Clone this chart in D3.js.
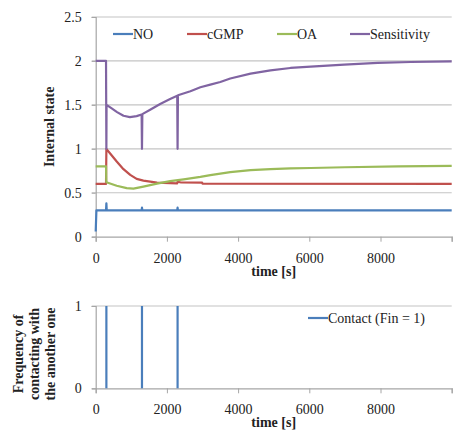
<!DOCTYPE html>
<html>
<head>
<meta charset="utf-8">
<script src="https://cdn.jsdelivr.net/npm/d3@7"></script>
<style>
  body { margin: 0; background: #fff; }
  text { font-family: "Liberation Serif", "Times New Roman", serif; fill: #222; }
</style>
</head>
<body>
<div id="chart"></div>
<script>
// values, [time s, value]
const noData = [[0, 0.06], [20, 0.3], [290, 0.3], [300, 0.38], [310, 0.3], [1290, 0.3], [1300, 0.33],
  [1310, 0.3], [2290, 0.3], [2300, 0.33], [2310, 0.3], [10000, 0.3]];
const cgmpData = [[0, 0.6], [290, 0.6], [300, 1.0], [400, 0.95], [590, 0.855], [780, 0.768], [970, 0.703],
  [1150, 0.658], [1340, 0.638], [1720, 0.616], [2090, 0.609], [2290, 0.607], [2300, 0.625], [2400, 0.617],
  [2990, 0.615], [3000, 0.604], [10000, 0.6]];
const oaData = [[0, 0.8], [290, 0.8], [300, 0.62], [590, 0.58], [870, 0.552], [1060, 0.547], [1340, 0.57],
  [1720, 0.604], [2090, 0.632], [2470, 0.652], [2940, 0.68], [3220, 0.7], [3780, 0.735], [4350, 0.757],
  [4910, 0.77], [5470, 0.778], [6040, 0.782], [7000, 0.79], [8500, 0.8], [10000, 0.806]];
const sensData = [[0, 2.0], [290, 2.0], [300, 1.0], [305, 1.5], [450, 1.46], [600, 1.418], [780, 1.376],
  [960, 1.36], [1150, 1.372], [1290, 1.39], [1300, 1.0], [1310, 1.395], [1530, 1.445], [1810, 1.51],
  [2090, 1.567], [2290, 1.604], [2300, 1.0], [2310, 1.61], [2660, 1.655], [2940, 1.7], [3220, 1.73],
  [3500, 1.76], [3780, 1.8], [4350, 1.855], [4910, 1.893], [5470, 1.92], [6040, 1.935], [6980, 1.958],
  [7920, 1.977], [8850, 1.988], [10000, 1.995]];
const contactTimes = [300, 1300, 2300];

const seriesNames = ["NO", "cGMP", "OA", "Sensitivity"];
const seriesColors = ["#4a7ebb", "#c0504d", "#9bbb59", "#8064a2"];
const series = [noData, cgmpData, oaData, sensData];

const xTicks = [0, 2000, 4000, 6000, 8000, 10000];
const yTicksTop = [0, 0.5, 1, 1.5, 2, 2.5];
const yTicksBottom = [0, 1];

const width = 455, height = 432;
const gridColor = "#c4c4c4", axisColor = "#a6a6a6";

const svg = d3.select("#chart").append("svg")
    .attr("width", width)
    .attr("height", height);

const x = d3.scaleLinear().domain([0, 10000]).range([95.7, 451.7]);
const yTop = d3.scaleLinear().domain([0, 2.5]).range([236.7, 17]);
const yBot = d3.scaleLinear().domain([0, 1]).range([388.3, 306]);

function drawFrame(y, yTicks, yFmt) {
  const [y0, y1] = y.range();
  // gridlines (ticks stick out 4px to the left)
  svg.append("g").selectAll("line")
    .data(yTicks.filter(d => d !== 0))
    .join("line")
      .attr("x1", x.range()[0] - 4).attr("x2", x.range()[1])
      .attr("y1", d => y(d)).attr("y2", d => y(d))
      .attr("stroke", gridColor).attr("stroke-width", 1.2);

  const xa = svg.append("g")
      .attr("transform", `translate(0,${y0})`)
      .call(d3.axisBottom(x).tickValues(xTicks).tickSize(5).tickPadding(11)
        .tickFormat(d => d === 10000 ? "" : d));
  xa.select(".domain").attr("stroke", axisColor).attr("stroke-width", 1.2);
  xa.selectAll(".tick line").attr("stroke", axisColor);
  xa.selectAll("text").attr("font-size", 14).attr("font-family", "Liberation Serif").attr("fill", "#222");

  const ya = svg.append("g")
      .attr("transform", `translate(${x.range()[0]},0)`)
      .call(d3.axisLeft(y).tickValues(yTicks).tickSize(4).tickPadding(10).tickFormat(yFmt));
  ya.select(".domain").attr("stroke", axisColor).attr("stroke-width", 1.2);
  ya.selectAll(".tick line").attr("stroke", axisColor);
  ya.selectAll("text").attr("font-size", 14).attr("font-family", "Liberation Serif").attr("fill", "#222");

  svg.append("text")
      .attr("x", (x.range()[0] + x.range()[1]) / 2).attr("y", y0 + 39)
      .attr("text-anchor", "middle").attr("font-size", 14).attr("font-weight", "bold")
      .text("time [s]");
}

drawFrame(yTop, yTicksTop, d => d);
drawFrame(yBot, yTicksBottom, d => d);

// top chart series
const line = d3.line().x(d => x(d[0])).y(d => yTop(d[1]));
svg.append("g").selectAll("path")
  .data(series)
  .join("path")
    .attr("d", line)
    .attr("fill", "none")
    .attr("stroke", (d, i) => seriesColors[i])
    .attr("stroke-width", 2.2)
    .attr("stroke-linejoin", "round");

// top legend
const legendX = [113, 187, 277, 350];
const legend = svg.append("g").selectAll("g")
  .data(seriesNames)
  .join("g")
    .attr("transform", (d, i) => `translate(${legendX[i]},34)`);
legend.append("line")
    .attr("x1", 0).attr("x2", 20)
    .attr("stroke", (d, i) => seriesColors[i]).attr("stroke-width", 2.2);
legend.append("text")
    .attr("x", 20).attr("dy", "0.35em").attr("font-size", 14)
    .text(d => d);

svg.append("text")
    .attr("transform", `translate(54,${(yTop.range()[0] + yTop.range()[1]) / 2}) rotate(-90)`)
    .attr("text-anchor", "middle").attr("font-size", 14).attr("font-weight", "bold")
    .text("Internal state");

// bottom chart: contact events
svg.append("g").selectAll("line")
  .data(contactTimes)
  .join("line")
    .attr("x1", d => x(d)).attr("x2", d => x(d))
    .attr("y1", yBot(0)).attr("y2", yBot(1))
    .attr("stroke", seriesColors[0]).attr("stroke-width", 2.2);

const bl = svg.append("g").attr("transform", "translate(308,318)");
bl.append("line").attr("x1", 0).attr("x2", 20)
    .attr("stroke", seriesColors[0]).attr("stroke-width", 2.2);
bl.append("text").attr("x", 20).attr("dy", "0.35em").attr("font-size", 14)
    .text("Contact (Fin = 1)");

const yLabelLines = ["Frequency of", "contacting with", "the another one"];
svg.append("g")
    .attr("transform", `translate(0,354) rotate(-90)`)
  .selectAll("text")
  .data(yLabelLines)
  .join("text")
    .attr("x", 0)
    .attr("y", (d, i) => 23 + i * 16)
    .attr("text-anchor", "middle").attr("font-size", 14).attr("font-weight", "bold")
    .text(d => d);
</script>
</body>
</html>
